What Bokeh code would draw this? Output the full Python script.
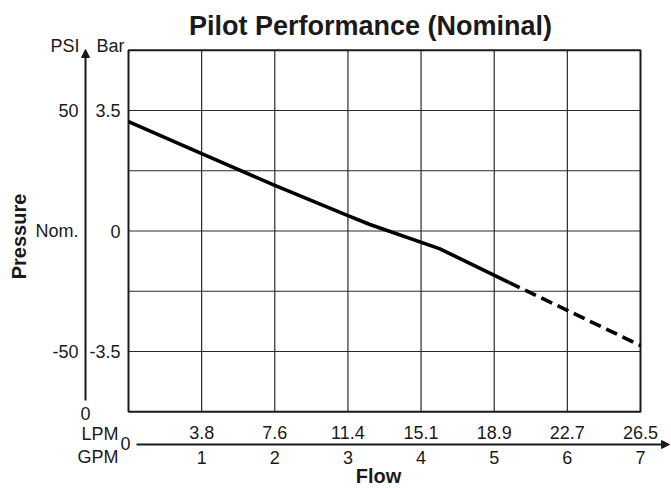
import math
from bokeh.plotting import figure
from bokeh.models import Range1d, Arrow, NormalHead
from bokeh.core.properties import value
from bokeh.embed import file_html
from bokeh.resources import INLINE

# ---------------- data ----------------
gpm_ticks = [1, 2, 3, 4, 5, 6, 7]
lpm_labels = ["3.8", "7.6", "11.4", "15.1", "18.9", "22.7", "26.5"]
gpm_labels = ["1", "2", "3", "4", "5", "6", "7"]
psi_ticks = [50, 0, -50]
psi_labels = ["50", "Nom.", "-50"]
bar_labels = ["3.5", "0", "-3.5"]
grid_psi = [-50, -25, 0, 25, 50]
x_max_gpm = 7
y_lim_psi = 75

solid_gpm = [0, 1, 2, 3, 3.3, 4.25, 5.2]
solid_psi = [45.4, 32.1, 18.9, 6.4, 2.7, -7.3, -21.3]
dash_gpm = [5.2, 7]
dash_psi = [-21.3, -47.5]

# ---------------- layout (page pixels) ----------------
W, H = 671, 488
ORIGIN = 0
FRAME_L, FRAME_R = 128, 640
Y0_PX = 230.5
PX_PER_PSI = 2.41
PX_PER_GPM = (FRAME_R - FRAME_L) / x_max_gpm


def gx(px):
    return (px - FRAME_L) / PX_PER_GPM


def gy(py):
    return (Y0_PX - py) / PX_PER_PSI


FONT = value("Liberation Sans")
INK = "#1a1a1a"

p = figure(width=W, height=H, output_backend="svg", toolbar_location=None,
           x_range=Range1d(gx(ORIGIN), gx(ORIGIN + W)),
           y_range=Range1d(gy(ORIGIN + H), gy(ORIGIN)),
           min_border=0, outline_line_color=None)
p.axis.visible = False
p.grid.visible = False

# grid
p.segment(x0=gpm_ticks[:-1], x1=gpm_ticks[:-1], y0=-y_lim_psi, y1=y_lim_psi,
          line_color="#2a2a2a", line_width=1.2)
p.segment(x0=0, x1=x_max_gpm, y0=grid_psi, y1=grid_psi,
          line_color="#2a2a2a", line_width=1.2)
# frame
p.quad(left=[0], right=[x_max_gpm], bottom=[-y_lim_psi], top=[y_lim_psi],
       fill_color=None, line_color=INK, line_width=2)

# curve
p.line(solid_gpm, solid_psi, line_color="black", line_width=3.6, line_join="round")
p.line(dash_gpm, dash_psi, line_color="black", line_width=3.6, line_dash="12 6")

# axis arrows
p.add_layout(Arrow(end=NormalHead(size=8, fill_color=INK, line_color=INK, line_width=1),
                   x_start=gx(85), y_start=gy(400), x_end=gx(85), y_end=gy(49),
                   line_color=INK, line_width=2))
p.add_layout(Arrow(end=NormalHead(size=8, fill_color=INK, line_color=INK, line_width=1),
                   x_start=gx(136), y_start=gy(444), x_end=gx(669), y_end=gy(444),
                   line_color=INK, line_width=2))

TICK = "18px"
# y labels
p.text(x=[gx(79)], y=[gy(45)], text=["PSI"], text_font=FONT, text_font_size=TICK,
       text_align="right", text_baseline="middle", text_color=INK)
p.text(x=[gx(96)], y=[gy(45)], text=["Bar"], text_font=FONT, text_font_size=TICK,
       text_align="left", text_baseline="middle", text_color=INK)
p.text(x=[gx(78)] * len(psi_ticks), y=psi_ticks, text=psi_labels, text_font=FONT,
       text_font_size=TICK, text_align="right", text_baseline="middle", text_color=INK)
p.text(x=[gx(120)] * len(psi_ticks), y=psi_ticks, text=bar_labels, text_font=FONT,
       text_font_size=TICK, text_align="right", text_baseline="middle", text_color=INK)
p.text(x=[gx(85)], y=[gy(413)], text=["0"], text_font=FONT, text_font_size=TICK,
       text_align="center", text_baseline="middle", text_color=INK)

# x labels
p.text(x=[gx(118)], y=[gy(433)], text=["LPM"], text_font=FONT, text_font_size=TICK,
       text_align="right", text_baseline="middle", text_color=INK)
p.text(x=[gx(118)], y=[gy(456)], text=["GPM"], text_font=FONT, text_font_size=TICK,
       text_align="right", text_baseline="middle", text_color=INK)
p.text(x=[gx(125)], y=[gy(443)], text=["0"], text_font=FONT, text_font_size=TICK,
       text_align="center", text_baseline="middle", text_color=INK)
p.text(x=gpm_ticks, y=[gy(432)] * len(gpm_ticks), text=lpm_labels, text_font=FONT,
       text_font_size=TICK, text_align="center", text_baseline="middle", text_color=INK)
p.text(x=gpm_ticks, y=[gy(457)] * len(gpm_ticks), text=gpm_labels, text_font=FONT,
       text_font_size=TICK, text_align="center", text_baseline="middle", text_color=INK)

# titles
p.text(x=[gx(370)], y=[gy(25)], text=["Pilot Performance (Nominal)"], text_font=FONT,
       text_font_size="27px", text_font_style="bold", text_align="center",
       text_baseline="middle", text_color=INK)
p.text(x=[gx(378)], y=[gy(475)], text=["Flow"], text_font=FONT,
       text_font_size="20px", text_font_style="bold", text_align="center",
       text_baseline="middle", text_color=INK)
p.text(x=[gx(18)], y=[gy(236)], text=["Pressure"], text_font=FONT, angle=math.pi / 2,
       text_font_size="20px", text_font_style="bold", text_align="center",
       text_baseline="middle", text_color=INK)

open("out.html", "w").write(file_html(p, INLINE))
